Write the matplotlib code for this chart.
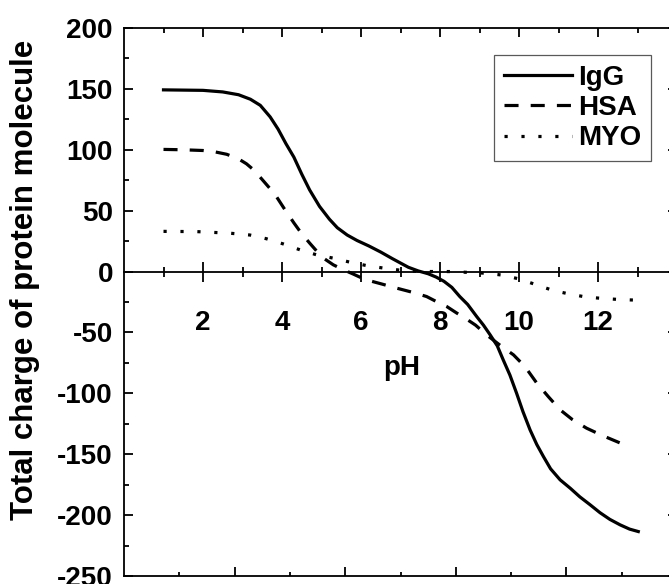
import numpy as np
import matplotlib
matplotlib.use('Agg')
import matplotlib.pyplot as plt

plt.rcParams['font.family'] = ['Liberation Sans', 'DejaVu Sans']
plt.rcParams['font.weight'] = 'bold'
plt.rcParams['axes.labelweight'] = 'bold'
plt.rcParams['axes.unicode_minus'] = False  # hyphen minus like the original

# charge vs pH
igg_ph = [1.0, 1.5, 2.0, 2.5, 2.9, 3.2, 3.45, 3.7, 3.9, 4.1, 4.3, 4.5, 4.7, 4.95,
          5.2, 5.4, 5.65, 5.9, 6.2, 6.5, 6.8, 7.0, 7.2, 7.45, 7.7, 7.9, 8.1, 8.3,
          8.5, 8.7, 8.93, 9.1, 9.27, 9.45, 9.6, 9.77, 9.94, 10.1, 10.28, 10.45,
          10.62, 10.8, 11.04, 11.3, 11.54, 11.8, 12.05, 12.3, 12.56, 12.8, 13.02]
igg_q = [149.2, 149.0, 148.8, 147.5, 145.2, 141.5, 136.5, 127, 117, 105, 94, 80,
         67, 53.5, 43, 36, 30, 25.5, 21, 16, 10.5, 7, 3.5, 0.5, -1.8, -4.5, -8,
         -13, -20.5, -27, -37, -44, -52, -61, -72.5, -85, -100, -115, -130, -142,
         -152, -162, -171, -178, -185, -191.5, -198, -203.5, -208, -211.5, -213.5]

hsa_ph = [1.0, 1.5, 2.0, 2.3, 2.6, 2.9, 3.1, 3.3, 3.5, 3.7, 3.86, 4.05, 4.3, 4.5,
          4.71, 4.9, 5.05, 5.3, 5.56, 5.8, 6.1, 6.5, 6.9, 7.3, 7.66, 7.9, 8.17,
          8.42, 8.6, 8.9, 9.18, 9.5, 9.86, 10.15, 10.45, 10.75, 11.04, 11.35,
          11.71, 12.1, 12.65]
hsa_q = [100.3, 100, 99.4, 98.3, 96.3, 92.5, 88.5, 83, 75.5, 68, 61.5, 52, 40, 31,
         23, 16, 11, 5.5, 1.4, -2, -6.5, -10, -13.6, -17, -20.5, -24.5, -28.7,
         -34, -37.5, -44, -52, -60, -68.4, -78, -91.6, -103, -113.5, -121.5,
         -128.6, -134.5, -142]

myo_ph = [1.0, 1.84, 2.68, 3.19, 3.6, 4.03, 4.46, 4.88, 5.3, 5.72, 6.14, 6.6, 7.07,
          7.5, 7.87, 8.34, 8.76, 9.18, 9.6, 10.03, 10.45, 10.87, 11.3, 11.71,
          12.13, 12.56, 13.0]
myo_q = [33, 32.8, 31.5, 30, 27, 22.7, 17.8, 13.7, 11, 7.7, 4.9, 2.7, 0.8, 0.1, 0,
         0, -0.8, -1.4, -3, -6.3, -11, -15.6, -18.6, -21, -22.1, -23, -23.5]

x_major = [2, 4, 6, 8, 10, 12]
x_minor = [1, 3, 5, 7, 9, 11, 13]
bottom_major = [2.8, 5.6, 8.4, 11.2]
bottom_minor = [1.4, 4.2, 7.0, 9.8, 12.6]

fig = plt.figure(figsize=(6.69, 5.84), dpi=100)
ax = fig.add_axes([124 / 669, 8 / 584, 553 / 669, 548 / 584])

clw = 2.3
ax.plot(igg_ph, igg_q, color='black', lw=clw, label='IgG')
ax.plot(hsa_ph, hsa_q, color='black', lw=clw, dashes=(4.4, 3.8), label='HSA')
ax.plot(myo_ph, myo_q, color='black', lw=clw, dashes=(1, 4.3), label='MYO')

ax.set_xlim(0, 14)
ax.set_ylim(-250, 200)

lw = 1.3
for s in ax.spines.values():
    s.set_linewidth(lw)
ax.spines['bottom'].set_position(('data', 0))

# x axis through zero
ax.set_xticks(x_major)
ax.set_xticks(x_minor, minor=True)
ax.tick_params(axis='x', which='both', direction='inout', width=lw,
               labelsize=20, pad=21)
ax.tick_params(axis='x', which='major', length=13.7)
ax.tick_params(axis='x', which='minor', length=7.7)

ax.set_yticks(np.arange(-250, 201, 50))
ax.set_yticks(np.arange(-225, 200, 50), minor=True)
ax.tick_params(axis='y', which='both', direction='in', left=True, right=True,
               width=lw, labelsize=20, pad=8)
ax.tick_params(axis='y', which='major', length=6.5)
ax.tick_params(axis='y', which='minor', length=3.6)

ax.set_ylabel('Total charge of protein molecule', fontsize=22.5, fontweight='bold')
ax.yaxis.set_label_coords(-0.152, 0.54)
ax.set_xlabel('pH', fontsize=20, fontweight='bold')
ax.xaxis.set_label_coords(0.503, 0.403)

# top ticks
ax_t = ax.twiny()
ax_t.set_xlim(0, 14)
for s in ax_t.spines.values():
    s.set_visible(False)
ax_t.set_xticks(x_major)
ax_t.set_xticks(x_minor, minor=True)
ax_t.tick_params(axis='x', which='both', direction='in', width=lw,
                 labeltop=False, top=True, bottom=False)
ax_t.tick_params(axis='x', which='major', length=6.5)
ax_t.tick_params(axis='x', which='minor', length=3.6)

# frame line at the bottom with its own ticks
ax_b = ax.twiny()
ax_b.set_xlim(0, 14)
for name, s in ax_b.spines.items():
    s.set_visible(name == 'bottom')
    s.set_linewidth(lw)
ax_b.xaxis.set_ticks_position('bottom')
ax_b.set_xticks(bottom_major)
ax_b.set_xticks(bottom_minor, minor=True)
ax_b.tick_params(axis='x', which='both', direction='in', width=lw,
                 labelbottom=False, labeltop=False, top=False, bottom=True)
ax_b.tick_params(axis='x', which='major', length=6.5)
ax_b.tick_params(axis='x', which='minor', length=3.0)

leg = ax.legend(loc='upper right', bbox_to_anchor=(0.953, 0.951),
                borderaxespad=0, fontsize=20, handlelength=2.45,
                handletextpad=0.22, borderpad=0.35, labelspacing=0.16,
                fancybox=False, edgecolor='0.35', framealpha=1)
leg.get_frame().set_linewidth(0.9)

fig.savefig('out.png', dpi=100)
